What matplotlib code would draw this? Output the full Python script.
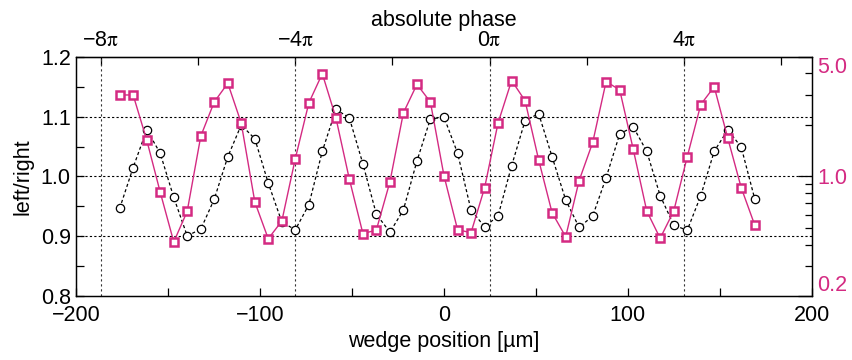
import numpy as np
import matplotlib
matplotlib.use("Agg")
import matplotlib.pyplot as plt
from matplotlib.ticker import FixedLocator, NullFormatter

plt.rcParams["font.family"] = ["Liberation Sans", "DejaVu Sans"]
plt.rcParams["mathtext.fontset"] = "stix"

MAGENTA = "#d42a82"

# wedge position [um]
wedge_um = [
    -176.4, -169.1, -161.7, -154.4, -147.0, -139.7, -132.3, -125.0,
    -117.6, -110.3, -102.9, -95.6, -88.2, -80.9, -73.5, -66.2,
    -58.8, -51.5, -44.1, -36.8, -29.4, -22.1, -14.7, -7.4,
    0.0, 7.4, 14.7, 22.1, 29.4, 36.8, 44.1, 51.5,
    58.8, 66.2, 73.5, 80.9, 88.2, 95.6, 102.9, 110.3,
    117.6, 125.0, 132.3, 139.7, 147.0, 154.4, 161.7, 169.1,
]

# left/right intensity ratio (left axis)
ratio = [
    0.947, 1.015, 1.078, 1.039, 0.965, 0.901, 0.912, 0.962,
    1.033, 1.086, 1.063, 0.989, 0.924, 0.911, 0.953, 1.042,
    1.112, 1.098, 1.021, 0.937, 0.907, 0.944, 1.026, 1.096,
    1.099, 1.039, 0.944, 0.916, 0.934, 1.018, 1.093, 1.105,
    1.033, 0.961, 0.915, 0.934, 0.998, 1.071, 1.083, 1.042,
    0.968, 0.919, 0.910, 0.968, 1.042, 1.078, 1.049, 0.962,
]

# magenta series (right log axis)
ratio_log = [
    2.99, 2.99, 1.63, 0.812, 0.415, 0.626, 1.72, 2.72,
    3.50, 2.05, 0.710, 0.433, 0.550, 1.27, 2.69, 3.98,
    2.20, 0.967, 0.464, 0.487, 0.932, 2.35, 3.45, 2.72,
    1.01, 0.489, 0.470, 0.860, 2.05, 3.63, 2.77, 1.25,
    0.615, 0.445, 0.945, 1.58, 3.58, 3.20, 1.45, 0.629,
    0.436, 0.629, 1.30, 2.63, 3.34, 1.67, 0.860, 0.519,
]

# absolute phase calibration: 4 pi per 105.8 um, zero at 24.8 um
PHASE_ZERO_UM = 24.8
UM_PER_4PI = 105.8
phase_major = [-8, -4, 0, 4]
phase_minor = [-6, -2, 2, 6]
phase_labels = ["\u22128$\\mathrm{\\pi}$", "\u22124$\\mathrm{\\pi}$",
                "0$\\mathrm{\\pi}$", "4$\\mathrm{\\pi}$"]


def um_to_phase(x):
    return (np.asarray(x) - PHASE_ZERO_UM) / UM_PER_4PI * 4


def phase_to_um(p):
    return np.asarray(p) * UM_PER_4PI / 4 + PHASE_ZERO_UM


FS = 15.5

fig = plt.figure(figsize=(8.53, 3.6), dpi=100)
ax = fig.add_axes([0.0895, 0.177, 0.862, 0.6655])

ax.set_xlim(-200, 200)
ax.set_ylim(0.8, 1.2)

# dotted guides
for y in (0.9, 1.0, 1.1):
    ax.axhline(y, color="black", lw=0.8, ls=(0, (2, 2)), zorder=1)
for xv in phase_to_um(phase_major):
    ax.axvline(xv, color="#333333", lw=0.8, ls=(0, (2, 2.5)), zorder=1)

ax.plot(wedge_um, ratio, color="black", lw=0.9, ls=(0, (2.5, 2)),
        marker="o", ms=6, mfc="white", mec="black", mew=0.9, zorder=3)

ax.xaxis.set_major_locator(FixedLocator([-200, -100, 0, 100, 200]))
ax.xaxis.set_minor_locator(FixedLocator([-150, -50, 50, 150]))
ax.yaxis.set_major_locator(FixedLocator([0.8, 0.9, 1.0, 1.1, 1.2]))
ax.yaxis.set_minor_locator(FixedLocator([0.85, 0.95, 1.05, 1.15]))
ax.set_yticklabels(["0.8", "0.9", "1.0", "1.1", "1.2"])
ax.set_xticklabels(["\u2212200", "\u2212100", "0", "100", "200"])
ax.tick_params(axis="both", which="both", direction="in", labelsize=FS,
               length=6, width=0.9, top=False, right=False)
ax.tick_params(axis="x", pad=6)
ax.tick_params(axis="y", pad=4)
ax.set_xlabel("wedge position [\u00b5m]", fontsize=FS, labelpad=4)
ax.set_ylabel("left/right", fontsize=FS, labelpad=5)

# right log axis
ax2 = ax.twinx()
ax2.set_yscale("log")
ax2.set_ylim(0.2, 5.0)
ax2.plot(wedge_um, ratio_log, color=MAGENTA, lw=1.0, marker="s", ms=5.5,
         mfc="white", mec=MAGENTA, mew=1.8, zorder=4)
ax2.yaxis.set_major_locator(FixedLocator([0.2, 1.0, 5.0]))
ax2.yaxis.set_minor_locator(FixedLocator([0.3, 0.4, 0.5, 0.6, 0.7, 0.8, 0.9, 2, 3, 4]))
ax2.yaxis.set_minor_formatter(NullFormatter())
ax2.set_yticklabels(["0.2", "1.0", "5.0"])
ax2.tick_params(axis="y", which="major", direction="in", length=10, width=0.9,
                labelsize=FS, labelcolor=MAGENTA, pad=4)
ax2.tick_params(axis="y", which="minor", direction="in", length=5, width=0.9)
lbls = ax2.get_yticklabels()
lbls[0].set_va("bottom")
lbls[-1].set_va("top")

# top axis: absolute phase in units of pi
secax = ax.secondary_xaxis("top", functions=(um_to_phase, phase_to_um))
secax.xaxis.set_major_locator(FixedLocator(phase_major))
secax.xaxis.set_minor_locator(FixedLocator(phase_minor))
secax.set_xticklabels(phase_labels)
secax.tick_params(axis="x", which="both", direction="in", length=6, width=0.9,
                  labelsize=FS, pad=4)
secax.set_xlabel("absolute phase", fontsize=FS, labelpad=3)

for a in (ax, ax2):
    for s in a.spines.values():
        s.set_linewidth(0.9)

fig.savefig("out.png", dpi=100)
